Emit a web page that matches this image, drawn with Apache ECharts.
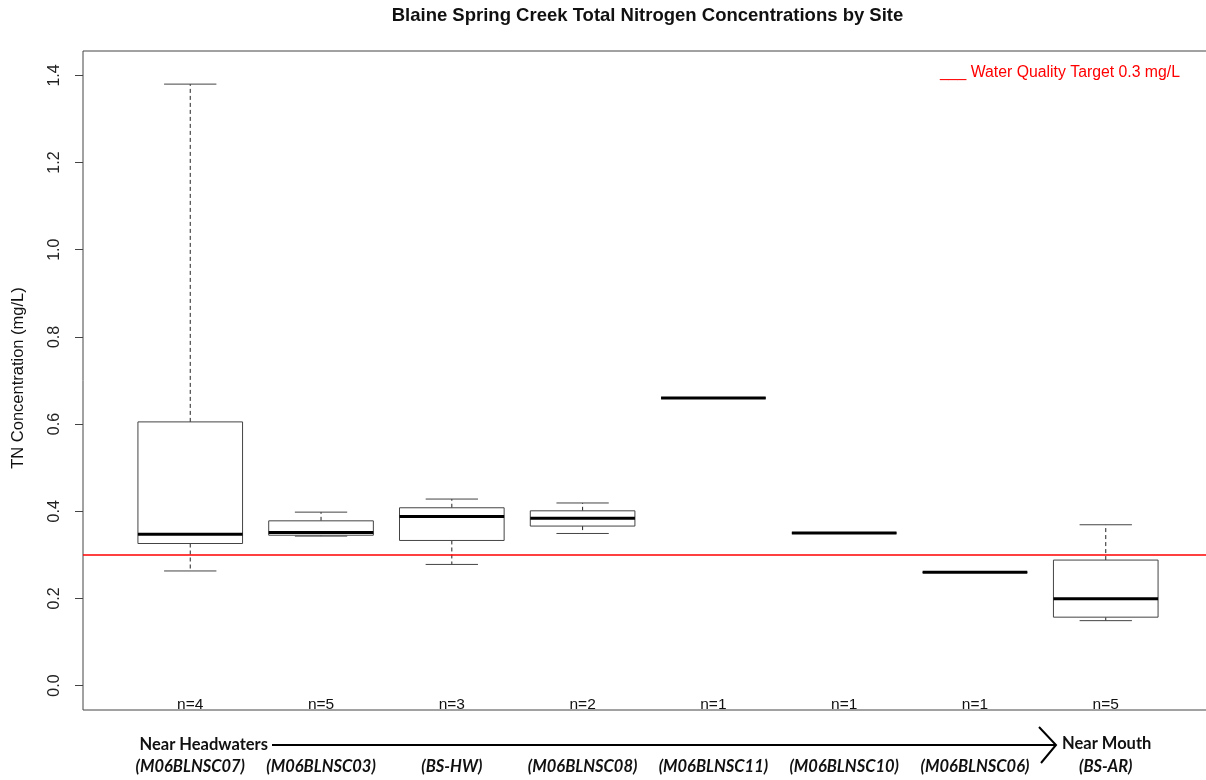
<!DOCTYPE html>
<html>
<head>
<meta charset="utf-8">
<script src="https://cdn.jsdelivr.net/npm/echarts@6/dist/echarts.min.js"></script>
<style>
html,body{margin:0;padding:0;background:#fff;}
#chart{width:1206px;height:780px;}
</style>
</head>
<body>
<div id="chart"></div>
<script>
// ---- data ----
const sites = ['(M06BLNSC07)','(M06BLNSC03)','(BS-HW)','(M06BLNSC08)','(M06BLNSC11)','(M06BLNSC10)','(M06BLNSC06)','(BS-AR)'];
const counts = [4, 5, 3, 2, 1, 1, 1, 5];
const lowerWhisker = [0.263, 0.343, 0.278, 0.349, 0.66, 0.35, 0.26, 0.149];
const q1 =           [0.326, 0.345, 0.333, 0.366, 0.66, 0.35, 0.26, 0.157];
const median =       [0.347, 0.351, 0.388, 0.384, 0.66, 0.35, 0.26, 0.199];
const q3 =           [0.605, 0.378, 0.408, 0.401, 0.66, 0.35, 0.26, 0.288];
const upperWhisker = [1.38,  0.398, 0.428, 0.419, 0.66, 0.35, 0.26, 0.369];
const yTicks = [0.0, 0.2, 0.4, 0.6, 0.8, 1.0, 1.2, 1.4];
const targetValue = 0.3;
const titleText = 'Blaine Spring Creek Total Nitrogen Concentrations by Site';
const yTitle = 'TN Concentration (mg/L)';
const legendText = '___ Water Quality Target 0.3 mg/L';
const startLabel = 'Near Headwaters';
const endLabel = 'Near Mouth';
const nLabelY = -0.044;

const positions = sites.map((s, i) => i + 1);
const boxData = positions.map((p, i) => [p, lowerWhisker[i], q1[i], median[i], q3[i], upperWhisker[i]]);
const nData = positions.map((p, i) => [p, nLabelY, counts[i]]);

const chart = echarts.init(document.getElementById('chart'), null, {renderer: 'canvas'});

function renderBox(params, api) {
  const x = api.value(0);
  const lo = api.coord([x, api.value(1)]);
  const b1 = api.coord([x, api.value(2)]);
  const md = api.coord([x, api.value(3)]);
  const b3 = api.coord([x, api.value(4)]);
  const hi = api.coord([x, api.value(5)]);
  const halfW = api.size([0.8, 0])[0] / 2;
  const halfS = halfW / 2;
  const cx = lo[0];
  const stroke = '#444';
  return {
    type: 'group',
    children: [
      {type: 'line', shape: {x1: cx, y1: b3[1], x2: cx, y2: hi[1]}, style: {stroke: '#222', lineWidth: 1, lineDash: [4, 3]}},
      {type: 'line', shape: {x1: cx, y1: b1[1], x2: cx, y2: lo[1]}, style: {stroke: '#222', lineWidth: 1, lineDash: [4, 3]}},
      {type: 'line', shape: {x1: cx - halfS, y1: hi[1], x2: cx + halfS, y2: hi[1]}, style: {stroke: stroke, lineWidth: 1}},
      {type: 'line', shape: {x1: cx - halfS, y1: lo[1], x2: cx + halfS, y2: lo[1]}, style: {stroke: stroke, lineWidth: 1}},
      {type: 'rect', shape: {x: cx - halfW, y: b3[1], width: halfW * 2, height: b1[1] - b3[1]}, style: {fill: '#fff', stroke: stroke, lineWidth: 1}},
      {type: 'line', shape: {x1: cx - halfW, y1: md[1], x2: cx + halfW, y2: md[1]}, style: {stroke: '#000', lineWidth: 3}}
    ]
  };
}

function renderN(params, api) {
  const c = api.coord([api.value(0), api.value(1)]);
  return {
    type: 'text',
    x: c[0], y: c[1],
    style: {text: 'n=' + api.value(2), fill: '#111', font: '15.5px "Liberation Sans", Arial, sans-serif', align: 'center', verticalAlign: 'middle'}
  };
}

const option = {
  animation: false,
  backgroundColor: '#fff',
  grid: {left: 83, top: 51, width: 1130, height: 659, show: true, borderColor: '#444', borderWidth: 1, backgroundColor: 'transparent', containLabel: false, outerBoundsMode: 'none'},
  xAxis: {
    type: 'value', min: 0.18, max: 8.82,
    axisLine: {show: false}, axisTick: {show: false}, splitLine: {show: false},
    axisLabel: {
      customValues: positions,
      formatter: v => sites[Math.round(v) - 1] || '',
      margin: 48,
      color: '#111',
      fontFamily: 'Lato, "Open Sans", sans-serif',
      fontStyle: 'italic', fontWeight: 'bold', fontSize: 16.5
    }
  },
  yAxis: {
    type: 'value', min: -0.056, max: 1.456,
    axisLine: {show: false},
    splitLine: {show: false},
    axisTick: {show: true, customValues: yTicks, length: 8, lineStyle: {color: '#444'}},
    axisLabel: {
      customValues: yTicks, rotate: 90, margin: 20,
      formatter: v => v.toFixed(1),
      color: '#222', fontSize: 16, fontFamily: '"Liberation Sans", Arial, sans-serif'
    }
  },
  series: [
    {
      type: 'custom', name: 'boxes', renderItem: renderBox, data: boxData,
      encode: {x: 0, y: [1, 2, 3, 4, 5]}, clip: false, z: 2,
      markLine: {
        silent: true, symbol: ['none', 'none'], label: {show: false},
        lineStyle: {color: '#ff0000', width: 1.6, type: 'solid'},
        data: [{yAxis: targetValue}], z: 5
      }
    },
    {type: 'custom', name: 'n', renderItem: renderN, data: nData, encode: {x: 0, y: 1}, clip: false, z: 3}
  ],
  graphic: [
    {type: 'text', x: 647.5, y: 16, style: {text: titleText, font: 'bold 18.5px "Liberation Sans", Arial, sans-serif', fill: '#111', align: 'center', verticalAlign: 'middle'}},
    {type: 'text', x: 18, y: 378, rotation: Math.PI / 2, style: {text: yTitle, font: '16.5px "Liberation Sans", Arial, sans-serif', fill: '#111', align: 'center', verticalAlign: 'middle'}},
    {type: 'text', x: 940, y: 73, style: {text: legendText, font: '15.8px "Liberation Sans", Arial, sans-serif', fill: '#ff0000', align: 'left', verticalAlign: 'middle'}},
    {type: 'text', x: 268, y: 745, style: {text: startLabel, font: 'bold 16.5px Lato, "Open Sans", sans-serif', fill: '#111', align: 'right', verticalAlign: 'middle'}},
    {type: 'text', x: 1062, y: 744, style: {text: endLabel, font: 'bold 16.5px Lato, "Open Sans", sans-serif', fill: '#111', align: 'left', verticalAlign: 'middle'}},
    {type: 'polyline', shape: {points: [[272, 745], [1055, 745]]}, style: {stroke: '#000', lineWidth: 2}},
    {type: 'polyline', shape: {points: [[1039, 727], [1056, 745], [1041, 763]]}, style: {stroke: '#000', lineWidth: 2, fill: null}}
  ]
};
chart.setOption(option);
</script>
</body>
</html>
